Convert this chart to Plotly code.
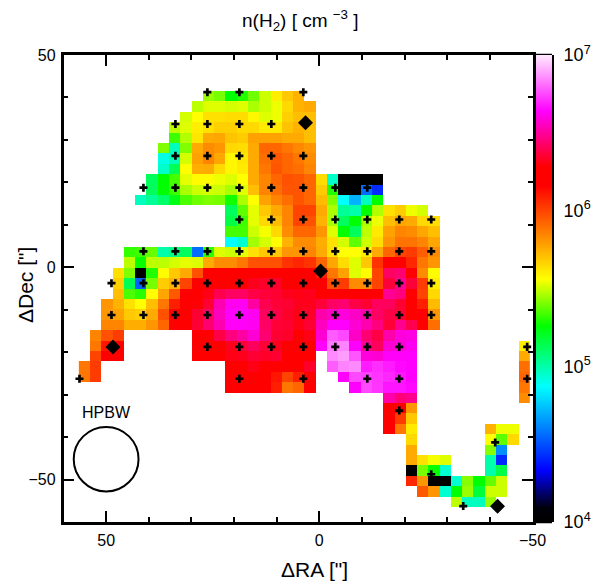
import plotly.graph_objects as go

N = None
# log10 n(H2) per map cell: (first column, values), top row first
row_first = [11, 10, 9, 8, 8, 7, 7, 7, 6, 6, 5, 13, 13, 13, 13, 4, 4, 3, 3, 3, 2, 2, 2, 1, 1, 1, 0, 0, 13, 27, 27, 27, 27, 29, 29, 29, 29, 29, 30, 33]
row_logn = [
 [5.44,5.40,5.26,5.30,5.39,5.50,5.60,5.69,5.74],
 [5.48,5.52,5.52,5.51,5.52,5.46,5.50,5.54,5.65,5.74,5.76],
 [5.51,5.56,5.63,5.63,5.64,5.64,5.58,5.52,5.54,5.67,5.71,5.71],
 [5.48,5.52,5.60,5.63,5.67,5.67,5.65,5.65,5.61,5.61,5.70,5.74,5.71],
 [5.33,5.47,5.62,5.76,5.77,5.70,5.68,5.78,5.78,5.78,5.76,5.76,5.71],
 [5.41,4.97,5.41,5.76,5.83,5.81,5.65,5.64,5.76,5.92,5.92,5.88,5.84,5.81],
 [4.91,4.98,5.51,5.78,5.85,5.77,5.58,5.62,5.76,5.90,5.95,5.92,5.88,5.83],
 [4.95,5.13,5.56,5.75,5.76,5.65,5.58,5.61,5.76,5.88,5.96,5.92,5.90,5.85],
 [5.12,5.26,5.34,5.53,5.57,5.57,5.54,5.52,5.56,5.76,5.85,5.92,5.97,5.96,5.92,5.64,4.95,4,4,4,4],
 [5.12,5.26,5.33,5.46,5.50,5.51,5.50,5.46,5.52,5.71,5.85,5.90,5.96,5.96,5.92,5.68,5.30,4,4,4.56,4.42],
 [4.97,5.03,5.10,5.23,5.35,5.39,5.41,5.40,5.28,5.46,5.56,5.78,5.85,5.90,5.96,5.92,5.72,5.41,4.87,4.71,4.97,5.26],
 [5.12,5.37,5.53,5.69,5.76,5.85,6.0,6.0,5.76,5.46,5.03,5.0,5.26,5.47,5.63,5.68,5.54,5.51],
 [5.15,5.33,5.53,5.65,5.71,5.85,6.0,5.97,5.74,5.46,5.12,5.26,5.46,5.54,5.71,5.77,5.76,5.65,5.64],
 [5.34,5.34,5.50,5.55,5.65,5.83,5.92,5.92,5.81,5.52,5.26,5.12,5.48,5.61,5.78,5.85,5.83,5.77,5.71],
 [4.87,4.94,5.45,5.51,5.56,5.74,5.83,5.83,5.75,5.63,5.51,5.37,5.50,5.64,5.81,5.89,5.89,5.85,5.77],
 [5.32,5.33,5.38,5.0,5.06,5.12,4.56,5.31,5.52,5.50,5.53,5.63,5.69,5.69,5.81,5.81,5.85,5.76,5.63,5.56,5.56,5.60,5.76,5.92,6.0,6.02,5.94,5.83],
 [5.48,5.27,5.48,5.48,5.51,5.53,5.52,5.76,5.83,5.83,5.88,5.97,5.97,5.97,6.04,6.07,6.04,5.92,5.77,5.64,5.52,5.69,6.04,6.2,6.2,6.07,5.88,5.81],
 [5.63,5.41,4,5.30,5.57,5.69,5.76,5.97,6.2,6.2,6.2,6.2,6.2,6.2,6.2,6.2,6.2,6.2,6.09,5.88,5.78,5.52,5.57,6.0,6.42,6.44,6.2,5.83,5.57],
 [5.67,5.13,4.54,5.40,5.68,5.74,6.0,6.2,6.2,6.2,6.2,6.2,6.32,6.34,6.34,6.2,6.2,6.2,6.2,5.97,6.02,5.83,5.83,6.0,6.36,6.49,6.36,6.02,5.60],
 [5.71,5.35,5.31,5.56,5.77,5.95,6.2,6.2,6.31,6.39,6.42,6.42,6.38,6.36,6.35,6.32,6.31,6.32,6.28,6.28,6.28,6.28,6.28,6.28,6.49,6.46,6.2,6.0,5.65],
 [5.81,5.74,5.63,5.56,5.71,5.88,6.09,6.2,6.29,6.35,6.53,6.62,6.62,6.51,6.39,6.36,6.35,6.32,6.32,6.36,6.42,6.44,6.38,6.35,6.41,6.41,6.35,6.2,6.09,5.72],
 [5.81,5.78,5.69,5.67,5.76,5.97,6.2,6.2,6.35,6.42,6.55,6.64,6.64,6.62,6.41,6.38,6.34,6.31,6.34,6.52,6.56,6.59,6.56,6.52,6.42,6.38,6.35,6.2,6.2,5.81],
 [5.85,5.85,5.75,5.75,5.81,5.92,6.2,6.2,6.35,6.44,6.53,6.63,6.63,6.62,6.42,6.36,6.35,6.31,6.35,6.55,6.64,6.64,6.58,6.53,6.46,6.36,6.48,6.39,6.2,5.90],
 [5.85,5.97,6.02,N,N,N,N,N,N,6.2,6.2,6.38,6.46,6.51,6.58,6.44,6.35,6.34,6.2,6.31,6.58,6.78,6.75,6.56,6.44,6.38,6.52,6.59,6.60],
 [5.88,6.11,6.2,N,N,N,N,N,N,6.2,6.2,6.2,6.32,6.36,6.41,6.36,6.32,6.2,6.2,6.2,6.64,6.82,6.84,6.64,6.49,6.41,6.58,6.59,6.62,N,N,N,N,N,N,N,N,N,5.60],
 [6.0,6.2,6.2,N,N,N,N,N,N,6.2,6.2,6.2,6.31,6.32,6.35,6.34,6.35,6.2,6.2,6.2,N,6.85,6.88,6.77,6.59,6.58,6.63,6.63,6.64,N,N,N,N,N,N,N,N,N,5.76],
 [5.88,6.02,N,N,N,N,N,N,N,N,N,N,N,6.2,6.2,6.31,6.2,6.2,6.2,6.2,6.34,N,6.78,6.84,6.85,6.68,6.71,6.68,6.65,6.64,N,N,N,N,N,N,N,N,N,5.90],
 [5.88,6.02,N,N,N,N,N,N,N,N,N,N,N,6.2,6.2,6.2,6.2,6.11,6.0,6.09,6.2,N,N,6.64,6.75,6.74,6.72,6.70,6.67,6.64,N,N,N,N,N,N,N,N,N,5.92],
 [6.2,6.2,6.2,6.2,6.09,5.88,5.92,6.2,N,N,N,6.64,6.75,6.72,6.67,6.67,6.65,N,N,N,N,N,N,N,N,N,5.88],
 [6.52,6.45,6.48,N,N,N,N,N,N,N,N,N,5.83],
 [6.2,6.2,5.81],
 [6.2,6.02,5.69],
 [6.2,5.88,5.61,N,N,N,N,N,N,5.74,5.54,5.54],
 [5.65,N,N,N,N,N,N,5.56,5.37,5.65],
 [5.76,N,N,N,N,N,N,5.42,4.63],
 [5.76,5.63,5.55,5.52,N,N,N,5.0,4.42],
 [4,5.40,5.27,4.94,N,N,N,5.0,5.15],
 [6.07,5.81,4,4,4.94,5.42,5.26,5.38,5.50],
 [5.95,5.81,4.94,5.25,5.44,5.17,5.50,5.50],
 [5.48,4.97,4.97,5.44],
]
n_cols = 40

# pointing positions (offsets in arcsec) per declination row
cross_dec = [41.25, 33.75, 26.25, 18.75, 11.25, 3.75, -3.75, -11.25, -18.75, -26.25, -33.75, -41.25, -48.75, -56.25]
cross_ra = [
 [26.25, 18.75, 3.75],
 [33.75, 26.25, 18.75, 11.25],
 [33.75, 26.25, 18.75, 11.25, 3.75],
 [41.25, 33.75, 26.25, 18.75, 11.25, 3.75, -3.75, -11.25],
 [18.75, 11.25, 3.75, -3.75, -11.25, -18.75, -26.25],
 [41.25, 33.75, 26.25, 18.75, 11.25, 3.75, -3.75, -11.25, -18.75, -26.25],
 [48.75, 41.25, 33.75, 26.25, 18.75, 11.25, 3.75, -3.75, -11.25, -18.75, -26.25],
 [48.75, 41.25, 33.75, 26.25, 18.75, 11.25, 3.75, -3.75, -11.25, -18.75, -26.25],
 [26.25, 18.75, 11.25, 3.75, -3.75, -11.25, -18.75, -48.75],
 [56.25, 18.75, 3.75, -11.25, -18.75, -48.75],
 [-18.75],
 [-41.25],
 [-26.25],
 [-33.75],
]
diamond_ra = [3.24, -0.3, 48.4, -41.8]
diamond_dec = [34.06, -0.9, -18.8, -56.3]

colorscale = [
 [0.0, "rgb(0,0,0)"], [0.03, "rgb(0,0,10)"], [0.11, "rgb(0,0,255)"],
 [0.29, "rgb(0,255,255)"], [0.42, "rgb(0,255,0)"], [0.52, "rgb(255,255,0)"],
 [0.72, "rgb(255,0,0)"], [0.76, "rgb(255,0,0)"], [0.88, "rgb(255,0,255)"],
 [1.0, "rgb(255,235,255)"],
]

z = []
for first, vals in zip(row_first, row_logn):
    row = [None] * first + list(vals)
    row += [None] * (n_cols - len(row))
    z.append(row)

FONT = "Liberation Sans"
PAGE_MARGIN = 8  # the page's own body margin
W, H = 601 - PAGE_MARGIN, 588 - PAGE_MARGIN
def px(x):
    return (x - PAGE_MARGIN) / W
def py(y):
    return 1 - (y - PAGE_MARGIN) / H
L, R, T, B = 63.5, 532.5, 55, 522

fig = go.Figure()
fig.add_trace(go.Heatmap(
    z=z, x0=55.08, dx=-2.645, y0=40.3, dy=-2.45,
    zmin=4, zmax=7, colorscale=colorscale, hoverongaps=False,
    colorbar=dict(
        x=px(535.5), xref="paper", xanchor="left", xpad=0,
        y=py(T), yref="paper", yanchor="top", ypad=0,
        len=(B - T) / H, lenmode="fraction", thickness=16, thicknessmode="pixels",
        outlinewidth=0, showticklabels=False, ticks="",
    ),
))
xs, ys = [], []
for dec, ras in zip(cross_dec, cross_ra):
    for ra in ras:
        xs.append(ra); ys.append(dec)
fig.add_trace(go.Scatter(x=xs, y=ys, mode="markers",
    marker=dict(symbol="cross", size=6.7, color="black", line=dict(width=0)), showlegend=False))
fig.add_trace(go.Scatter(x=diamond_ra, y=diamond_dec, mode="markers",
    marker=dict(symbol="diamond", size=11.5, color="black", line=dict(width=0)), showlegend=False))
# carrier for the colour-bar axis
fig.add_trace(go.Scatter(x=[None, None], y=[1e4, 1e7], yaxis="y2", mode="markers",
    marker=dict(opacity=0), showlegend=False, hoverinfo="skip"))

axis_common = dict(showgrid=False, zeroline=False, showline=True, linecolor="black", linewidth=2.5,
                   ticks="inside", ticklen=11, tickwidth=2, tickcolor="black", mirror="ticks", automargin=False,
                   ticklabelstandoff=2,
                   minor=dict(ticks="inside", ticklen=5, tickwidth=2, tickcolor="black", dtick=10, showgrid=False),
                   tickfont=dict(family=FONT, size=16, color="black"))
fig.update_layout(
    width=W, height=H, autosize=False,
    margin=dict(l=0, r=0, t=0, b=0, pad=0), plot_bgcolor="white", paper_bgcolor="white", showlegend=False,
    xaxis=dict(domain=[px(L), px(R)], range=[60, -50], tickvals=[50, 0, -50], ticktext=["50", "0", "\u221250"], **axis_common),
    yaxis=dict(domain=[py(B), py(T)], range=[-60, 50], tickvals=[50, 0, -50], ticktext=["50", "0", "\u221250"], **axis_common),
    yaxis2=dict(overlaying="y", side="right", anchor="free", position=px(552), type="log", range=[4, 7], automargin=False,
                showgrid=False, zeroline=False, showline=True, linecolor="black", linewidth=3,
                ticks="inside", ticklen=8, tickwidth=2, tickcolor="black", ticklabelstandoff=6,
                tickvals=[1e4, 1e5, 1e6, 1e7],
                ticktext=["10<sup>4</sup>", "10<sup>5</sup>", "10<sup>6</sup>", "10<sup>7</sup>"],
                minor=dict(ticks="inside", ticklen=4, tickwidth=2, tickcolor="black", showgrid=False),
                tickfont=dict(family=FONT, size=18, color="black")),
    annotations=[
        dict(text="n(H<sub>2</sub>) [ cm <sup>\u22123</sup> ]", xref="paper", yref="paper", x=px(300), y=py(20),
             xanchor="center", yanchor="middle", showarrow=False, font=dict(family=FONT, size=19, color="black")),
        dict(text='\u0394RA ["]', xref="paper", yref="paper", x=px(314), y=py(569),
             xanchor="center", yanchor="middle", showarrow=False, font=dict(family=FONT, size=21, color="black")),
        dict(text='\u0394Dec ["]', xref="paper", yref="paper", x=px(25), y=py(285), textangle=-90,
             xanchor="center", yanchor="middle", showarrow=False, font=dict(family=FONT, size=21, color="black")),
        dict(text="HPBW", x=50, y=-34.2, xanchor="center", yanchor="middle", showarrow=False,
             font=dict(family=FONT, size=16, color="black")),
    ],
    shapes=[
        dict(type="circle", xref="x", yref="y", x0=57.6, x1=42.4, y0=-52.8, y1=-37.6,
             line=dict(color="black", width=2)),
        dict(type="line", xref="paper", yref="paper", x0=px(535.5), x1=px(535.5), y0=py(B), y1=py(T),
             line=dict(color="black", width=2.5)),
        dict(type="line", xref="paper", yref="paper", x0=px(535.5), x1=px(552), y0=py(T), y1=py(T),
             line=dict(color="black", width=2.5)),
        dict(type="line", xref="paper", yref="paper", x0=px(535.5), x1=px(552), y0=py(B), y1=py(B),
             line=dict(color="black", width=2.5)),
    ],
)
fig.write_html("out.html")
